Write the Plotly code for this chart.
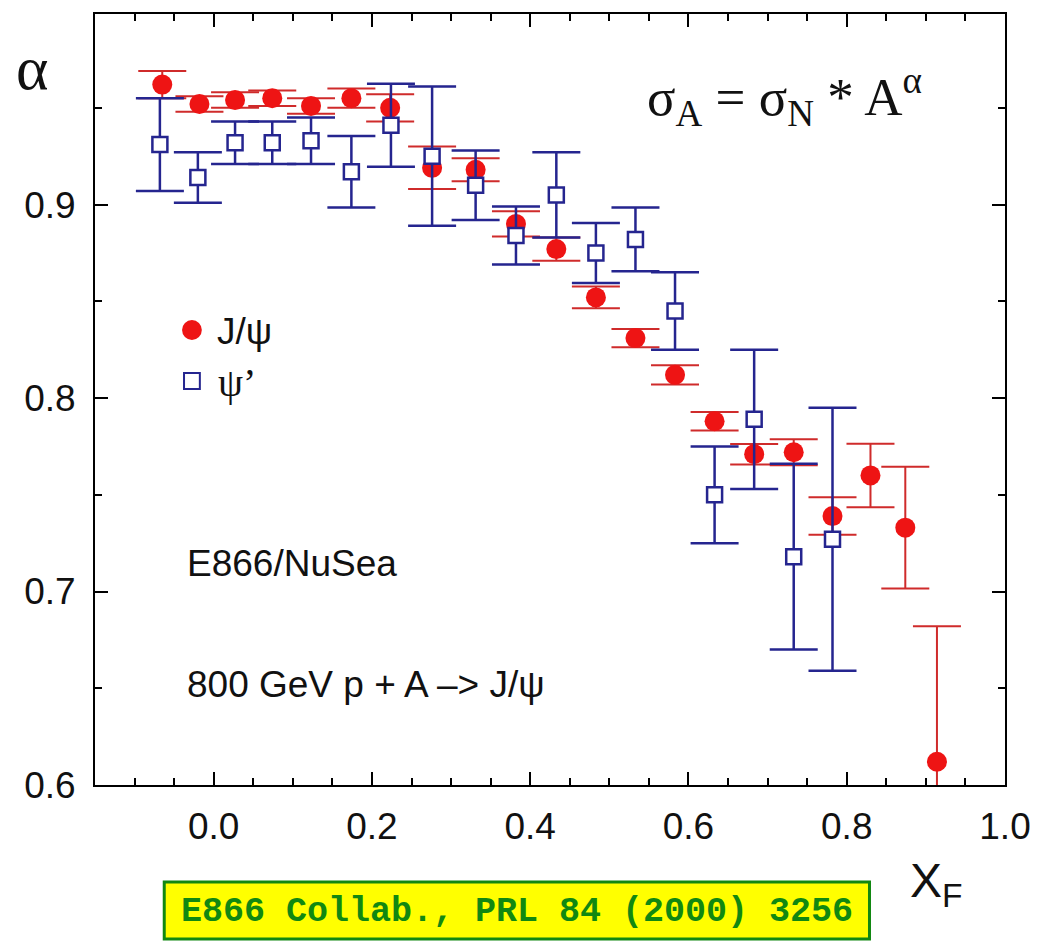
import plotly.graph_objects as go

# E866/NuSea nuclear dependence exponent alpha vs x_F
jpsi_xf = [-0.065, -0.018, 0.027, 0.074, 0.123, 0.174, 0.223, 0.276, 0.331, 0.382, 0.433,
           0.483, 0.533, 0.583, 0.633, 0.683, 0.733, 0.782, 0.830, 0.874, 0.914]
jpsi_alpha = [0.962, 0.952, 0.954, 0.955, 0.951, 0.955, 0.950, 0.919, 0.918, 0.890, 0.877,
              0.852, 0.831, 0.812, 0.788, 0.771, 0.772, 0.739, 0.760, 0.733, 0.612]
jpsi_err = [0.007, 0.004, 0.004, 0.004, 0.004, 0.005, 0.007, 0.011, 0.006, 0.0065, 0.006,
            0.0056, 0.0047, 0.005, 0.0048, 0.0053, 0.0067, 0.0097, 0.0164, 0.0315, 0.070]

psip_xf = [-0.068, -0.020, 0.027, 0.074, 0.123, 0.174, 0.224, 0.276, 0.331, 0.382, 0.433,
           0.483, 0.533, 0.583, 0.633, 0.683, 0.733, 0.782]
psip_alpha = [0.931, 0.914, 0.932, 0.932, 0.933, 0.917, 0.941, 0.925, 0.910, 0.884, 0.905,
              0.875, 0.882, 0.845, 0.750, 0.789, 0.718, 0.727]
psip_err = [0.024, 0.013, 0.011, 0.011, 0.012, 0.0185, 0.0215, 0.036, 0.018, 0.015, 0.022,
            0.0155, 0.0165, 0.020, 0.025, 0.036, 0.048, 0.068]

x_ticks = [0.0, 0.2, 0.4, 0.6, 0.8, 1.0]
y_ticks = [0.6, 0.7, 0.8, 0.9]

W, H = 1043, 941
L, R, T, B = 95, 28, 14, 156
PW, PH = W - L - R, H - T - B

RED = "#ee1414"
RED_BAR = "#cf2b2b"
NAVY = "#25258f"
SANS = "Liberation Sans, Arial, sans-serif"
SERIF = "Liberation Serif, Times New Roman, serif"


def px(x):
    return (x - L) / PW


def py(y):
    return (H - B - y) / PH


fig = go.Figure()

fig.add_trace(go.Scatter(
    x=jpsi_xf, y=jpsi_alpha, mode="markers", name="J/ψ",
    marker=dict(symbol="circle", size=20, color=RED, line=dict(width=0)),
    error_y=dict(type="data", array=jpsi_err, color=RED_BAR, thickness=2, width=24),
    showlegend=False,
))

fig.add_trace(go.Scatter(
    x=psip_xf, y=psip_alpha, mode="markers", name="ψ’",
    marker=dict(symbol="square", size=15, color="white", line=dict(width=2.5, color=NAVY)),
    error_y=dict(type="data", array=psip_err, color=NAVY, thickness=2.5, width=24),
    showlegend=False,
))

axis_common = dict(
    showline=True, linecolor="black", linewidth=2, mirror="ticks",
    ticks="inside", ticklen=13, tickwidth=2, tickcolor="black",
    showgrid=False, zeroline=False,
    tickfont=dict(family=SANS, size=37, color="#111111"),
)

fig.update_xaxes(
    range=[-0.15, 1.0], tickvals=x_ticks, tickformat=".1f",
    minor=dict(ticks="inside", ticklen=7, tickwidth=1.5, tickcolor="black", dtick=0.05, showgrid=False),
    ticklabelstandoff=8,
    **axis_common,
)
fig.update_yaxes(
    range=[0.6, 0.9985], tickvals=y_ticks, tickformat=".1f",
    minor=dict(ticks="inside", ticklen=7, tickwidth=1.5, tickcolor="black", dtick=0.05, showgrid=False),
    ticklabelstandoff=10,
    **axis_common,
)

shapes = [
    # legend keys
    dict(type="circle", xref="paper", yref="paper",
         x0=px(183), x1=px(203), y0=py(340), y1=py(320),
         fillcolor=RED, line=dict(width=0)),
    dict(type="rect", xref="paper", yref="paper",
         x0=px(185), x1=px(201), y0=py(389), y1=py(373),
         fillcolor="white", line=dict(width=2, color=NAVY)),
    # reference box
    dict(type="rect", xref="paper", yref="paper",
         x0=px(165), x1=px(878), y0=py(939), y1=py(882),
         fillcolor="#ffff00", line=dict(width=3, color="#118811")),
]

annotations = [
    dict(text="α", x=px(31), y=py(68), font=dict(family=SERIF, size=62, color="#111111")),
    dict(text="σ<sub>A</sub> = σ<sub>N</sub> * A<sup>α</sup>", x=px(792), y=py(97),
         font=dict(family=SERIF, size=53, color="#111111")),
    dict(text="J/ψ", x=px(216), y=py(331), xanchor="left",
         font=dict(family=SANS, size=37, color="#111111")),
    dict(text="ψ’", x=px(217), y=py(382), xanchor="left",
         font=dict(family=SERIF, size=40, color="#111111")),
    dict(text="E866/NuSea", x=px(186), y=py(563), xanchor="left",
         font=dict(family=SANS, size=37, color="#111111")),
    dict(text="800 GeV p + A –> J/ψ", x=px(186), y=py(684), xanchor="left",
         font=dict(family=SANS, size=37, color="#111111")),
    dict(text="X<sub>F</sub>", x=px(946), y=py(884),
         font=dict(family=SANS, size=48, color="#111111")),
    dict(text="<b>E866 Collab., PRL 84 (2000) 3256</b>", x=px(522), y=py(912),
         font=dict(family="Liberation Mono, Courier New, monospace", size=35, color="#118811")),
]
for a in annotations:
    a.setdefault("xanchor", "center")
    a.update(xref="paper", yref="paper", yanchor="middle", showarrow=False)

fig.update_layout(
    width=W, height=H,
    margin=dict(l=L, r=R, t=T, b=B),
    paper_bgcolor="white", plot_bgcolor="white",
    shapes=shapes, annotations=annotations,
    showlegend=False,
)

fig.write_html("out.html")
